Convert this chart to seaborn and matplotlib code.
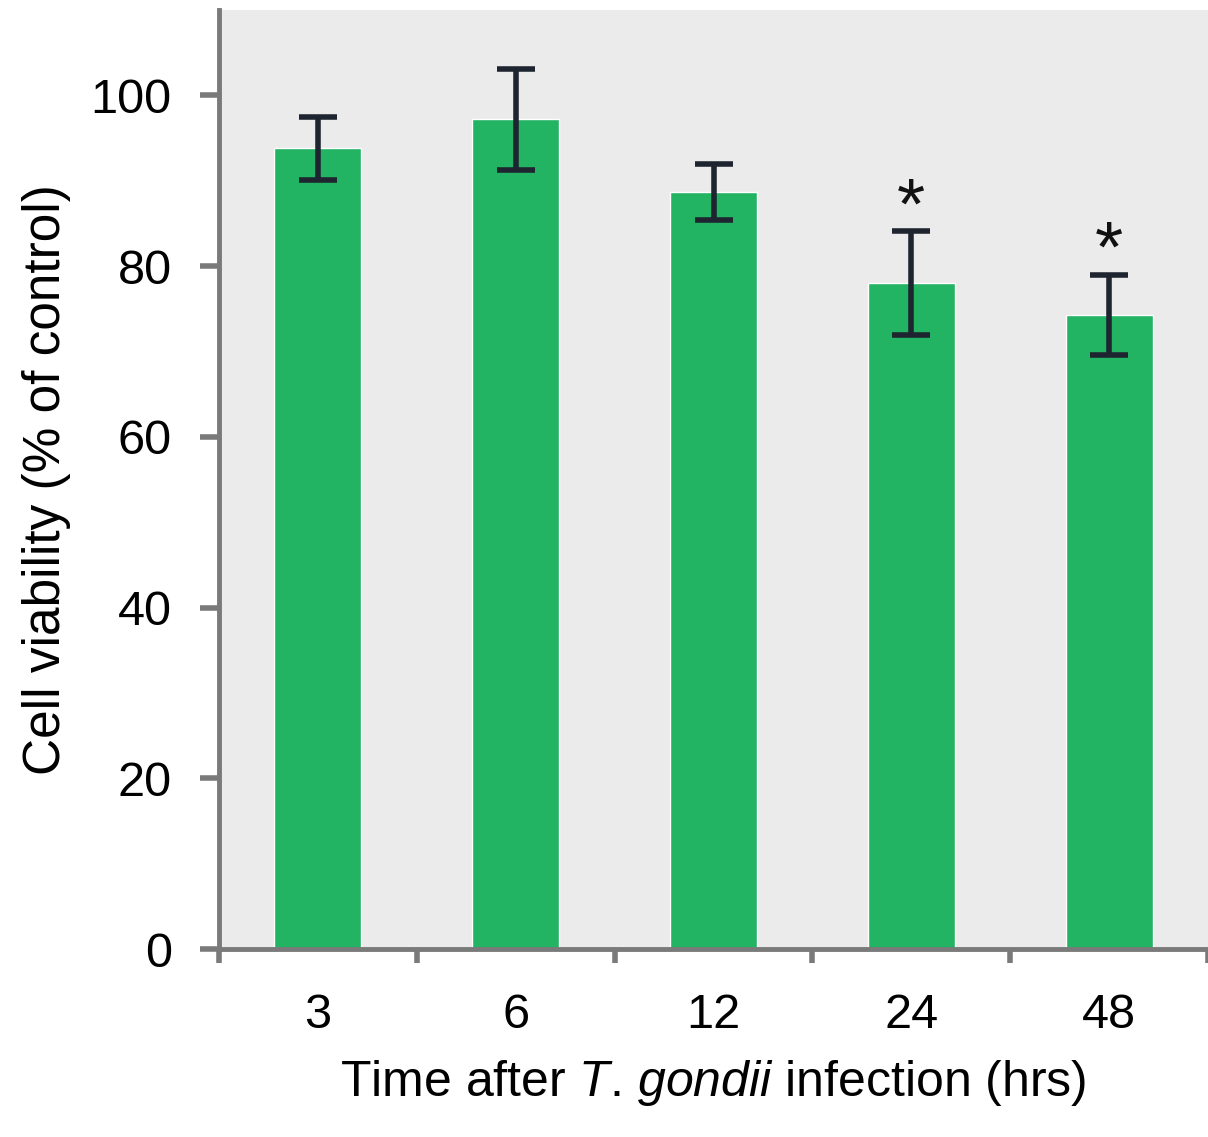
import matplotlib
matplotlib.use("Agg")
import matplotlib.pyplot as plt
import seaborn as sns
import pandas as pd

# data
hours = ["3", "6", "12", "24", "48"]
viability = [93.8, 97.2, 88.7, 78.0, 74.3]
err = [3.7, 5.9, 3.3, 6.1, 4.7]
significant = [False, False, False, True, True]

df = pd.DataFrame({"hours": hours, "viability": viability})

sns.set_style("white")
plt.rcParams["font.family"] = ["Liberation Sans", "DejaVu Sans"]
plt.rcParams["mathtext.fontset"] = "custom"
plt.rcParams["mathtext.it"] = "Liberation Sans:italic"
plt.rcParams["mathtext.rm"] = "Liberation Sans"
plt.rcParams["text.color"] = "black"
plt.rcParams["axes.labelcolor"] = "black"
plt.rcParams["xtick.labelcolor"] = "black"
plt.rcParams["ytick.labelcolor"] = "black"

fig = plt.figure(figsize=(12.08, 11.37), dpi=100)
ax = fig.add_axes([0.1813, 0.1653, 0.8187, 0.8259])
ax.set_facecolor("#ebebeb")

sns.barplot(data=df, x="hours", y="viability", color="#22b363", width=0.44,
            saturation=1, errorbar=None, ax=ax)
ax.errorbar(range(len(hours)), viability, yerr=err, fmt="none",
            ecolor="#1e2430", elinewidth=4, capsize=14, capthick=4, zorder=3)

# significance marks
for i, s in enumerate(significant):
    if s:
        ax.text(i, viability[i] + err[i] + 2.5, "*", ha="center", va="center",
                fontsize=52, color="#111111")

ax.set_ylim(0, 110)
ax.set_xlim(-0.5, len(hours) - 0.5)
ax.set_yticks([0, 20, 40, 60, 80, 100])
ax.set_xticks(range(len(hours)))
ax.set_xticklabels(hours)
ax.set_xticks([i + 0.5 for i in range(-1, len(hours))], minor=True)

for side in ["top", "right"]:
    ax.spines[side].set_visible(False)
for side in ["left", "bottom"]:
    ax.spines[side].set_color("#7a7a7a")
    ax.spines[side].set_linewidth(3.5)

ax.tick_params(axis="y", which="major", direction="out", length=14, width=4,
               color="#7a7a7a", labelsize=35, pad=20, left=True)
ax.tick_params(axis="x", which="major", length=0, labelsize=35, pad=32)
ax.tick_params(axis="x", which="minor", direction="out", length=10, width=4,
               color="#7a7a7a", bottom=True)

ax.set_ylabel("Cell viability (% of control)", fontsize=37, labelpad=14)
ax.set_xlabel(r"Time after $\mathit{T}$. $\mathit{gondii}$ infection (hrs)",
              fontsize=36, labelpad=14)

fig.savefig("out.png", dpi=100)
